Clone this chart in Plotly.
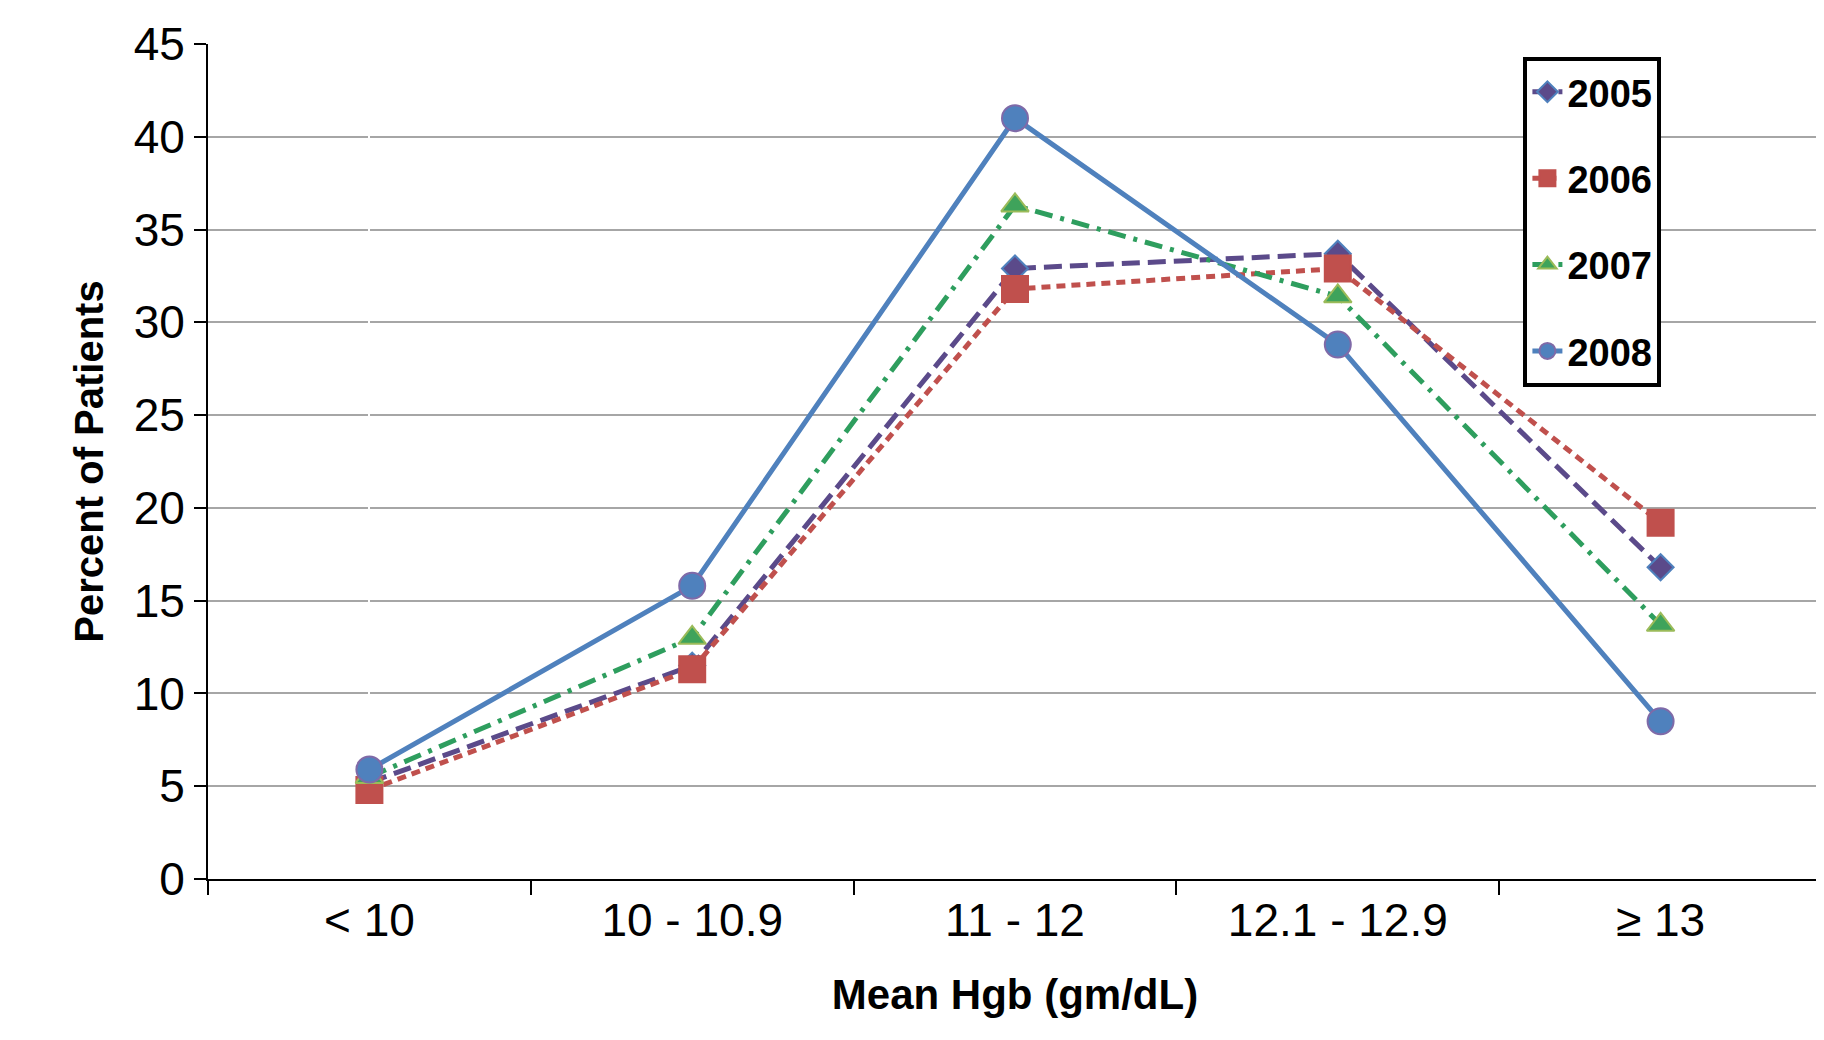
import plotly.graph_objects as go

categories = ["< 10", "10 - 10.9", "11 - 12", "12.1 - 12.9", "≥ 13"]
y2005 = [5.2, 11.5, 32.9, 33.7, 16.8]
y2006 = [4.8, 11.3, 31.8, 32.9, 19.2]
y2007 = [5.5, 13.0, 36.3, 31.4, 13.7]
y2008 = [5.9, 15.8, 41.0, 28.8, 8.5]

x = list(range(len(categories)))

series = [
    ("2005", y2005, "#5B4A8A", "18px,8px", "diamond", 20, "#5B4A8A", "#4F81BD"),
    ("2006", y2006, "#C0504D", "9px,6px", "square", 26, "#C0504D", "#C0504D"),
    ("2007", y2007, "#2E9E5E", "18px,8px,4px,8px", "triangle-up", 24, "#3FA35B", "#9BBB59"),
    ("2008", y2008, "#4F81BD", "solid", "circle", 26, "#4F81BD", "#7F6AA8"),
]

fig = go.Figure()
for name, ys, col, dash, sym, size, fill, edge in series:
    fig.add_trace(go.Scatter(
        x=x, y=ys, name=name, mode="lines+markers", legendgroup=name,
        line=dict(color=col, width=5, dash=dash),
        marker=dict(symbol=sym, size=size, color=fill, line=dict(color=edge, width=2)),
    ))

fig.update_layout(
    width=1824, height=1040,
    paper_bgcolor="white", plot_bgcolor="white",
    margin=dict(l=200, r=10, t=32, b=169),
    font=dict(family="Liberation Sans, Arial", size=46, color="black"),
    legend=dict(
        x=0.815, y=0.985, xanchor="left", yanchor="top",
        bordercolor="black", borderwidth=4, bgcolor="white",
        font=dict(size=38, family="Liberation Sans, Arial", weight="bold"),
        tracegroupgap=34,
    ),
)
fig.update_xaxes(
    range=[-0.5, 4.5], tickvals=x, ticktext=categories, ticks="",
    showline=True, linecolor="black", linewidth=2, showgrid=False,
    minor=dict(tickvals=[-0.5, 0.5, 1.5, 2.5, 3.5, 4.5], ticks="outside", ticklen=14, tickcolor="black", tickwidth=2, showgrid=False),
    title=dict(text="<b>Mean Hgb (gm/dL)</b>", font=dict(size=42), standoff=34),
    tickfont=dict(size=46),
)
fig.update_yaxes(
    range=[0, 45], dtick=5, ticks="outside", ticklen=12, tickcolor="black", tickwidth=2,
    showline=True, linecolor="black", linewidth=2,
    showgrid=True, gridcolor="#A6A6A6", gridwidth=1.5,
    title=dict(text="<b>Percent of Patients</b>", font=dict(size=40), standoff=18),
    tickfont=dict(size=46),
)
fig.write_html("out.html")
